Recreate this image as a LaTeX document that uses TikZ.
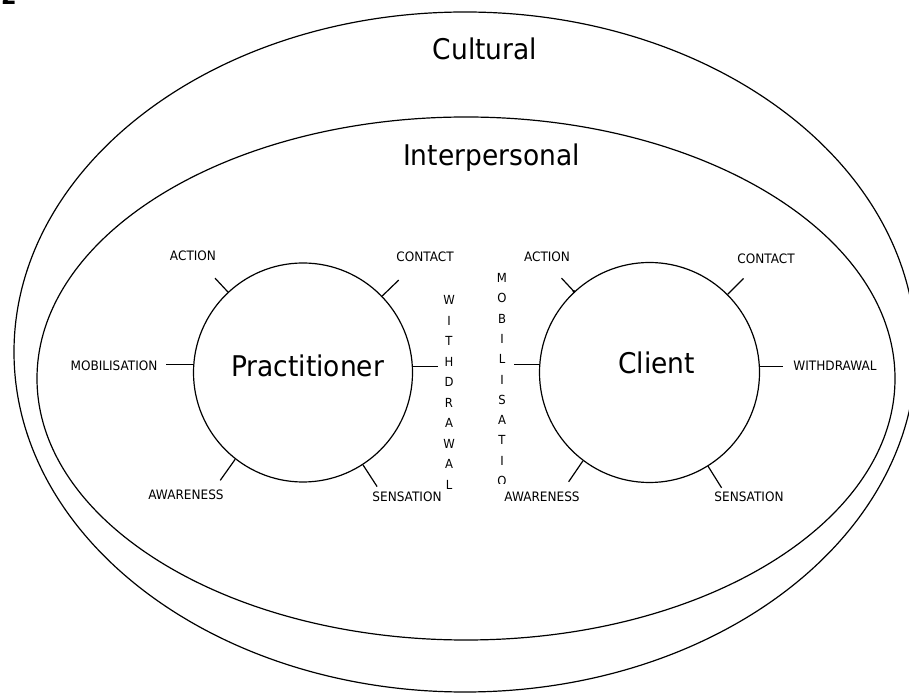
\documentclass[tikz,border=0pt]{standalone}
\usepackage{fontspec}
\setmainfont{DejaVu Sans}[FakeStretch=0.93]
\usetikzlibrary{calc}
\begin{document}
\begin{tikzpicture}[x=1pt,y=1pt,
  ln/.style={line width=1.2pt},
  ring/.style={draw, circle, line width=1.2pt, inner sep=0pt},
  big/.style={font=\fontsize{28.5}{30}\selectfont, inner sep=0pt},
  lab/.style={font=\fontsize{13}{14}\selectfont, inner sep=0pt},
  vlet/.style={font=\fontsize{12.5}{14}\selectfont, inner sep=0pt}]
\useasboundingbox (0,0) rectangle (909,693);
% partial figure number at the top-left corner
\node[anchor=base, font=\fontsize{24}{24}\selectfont\bfseries, inner sep=0pt] (fignum) at (9,688) {2};
% fields
\draw[ln] (465,341) ellipse [x radius=451, y radius=340];
\draw[ln] (466,314.5) ellipse [x radius=429, y radius=261.5];
\node[big, anchor=base] (cult) at (485,633.7) {Cultural};
\node[big, anchor=base] (inter) at (491.5,527.3) {Interpersonal};
% circles
\node[ring, minimum size=219pt] (P) at (303,320.5) {};
\node[ring, minimum size=220pt] (C) at (649.5,320.5) {};
\node[big, anchor=base] (pt) at (307.5,316.3) {Practitioner};
\node[big, anchor=base] (ct) at (656.5,319.7) {Client};
% Practitioner ticks
\draw[ln] (P.133) -- ($(P.center)+(133:129)$);
\draw[ln] (P.44) -- ($(P.center)+(44:133)$);
\draw[ln] (P.232.5) -- ($(P.center)+(232.5:136)$);
\draw[ln] (P.-57) -- ($(P.center)+(-57:136)$);
\draw[ln] (P.176.6) -- ++(-26.7,0);
\draw[ln] (P.3.4) -- ++(24.7,0);
% Client ticks
\draw[ln] (C.133) -- ($(C.center)+(133:129)$);
\fill (C.133) circle (1.6);
\draw[ln] (C.45) -- ($(C.center)+(45:133)$);
\draw[ln] (C.233.5) -- ($(C.center)+(233.5:136)$);
\draw[ln] (C.-58) -- ($(C.center)+(-58:136)$);
\draw[ln] (C.176.6) -- ++(-24.7,0);
\draw[ln] (C.3.4) -- ++(22.7,0);
% Practitioner labels
\node[lab] (pact) at (193,437) {ACTION};
\node[lab] (pcon) at (425,436) {CONTACT};
\node[lab] (pmob) at (114,327) {MOBILISATION};
\node[lab] (pawa) at (186,198) {AWARENESS};
\node[lab] (psen) at (407,196) {SENSATION};
% Client labels
\node[lab] (cact) at (547,436) {ACTION};
\node[lab] (ccon) at (766,434) {CONTACT};
\node[lab] (cwit) at (835,327) {WITHDRAWAL};
\node[lab] (cawa) at (542,196) {AWARENESS};
\node[lab] (csen) at (749,196) {SENSATION};
% vertical words
\foreach \l [count=\i from 0] in {W,I,T,H,D,R,A,W,A,L}
  \node[vlet] (wd\i) at (449, 393-20.5*\i) {\l};
\begin{scope}
  \clip (480,209.5) rectangle (525,430);
  \foreach \l [count=\i from 0] in {M,O,B,I,L,I,S,A,T,I,O,N}
    \node[vlet] (mb\i) at (502, 415-20.3*\i) {\l};
\end{scope}
\end{tikzpicture}
\end{document}
